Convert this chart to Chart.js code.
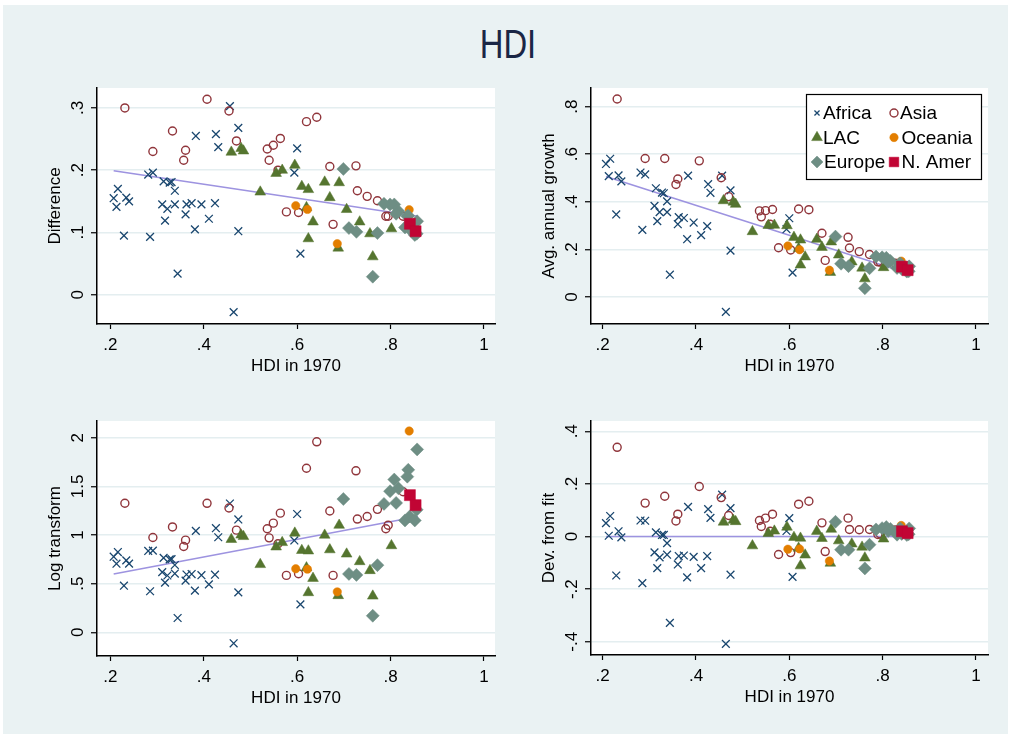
<!DOCTYPE html>
<html><head><meta charset="utf-8">
<script src="https://cdn.jsdelivr.net/npm/chart.js@4/dist/chart.umd.min.js"></script>
<style>
html,body{margin:0;padding:0;background:#ffffff;width:1011px;height:738px;overflow:hidden;}
#bg{position:absolute;left:3px;top:5px;width:1005px;height:729px;background:#eaf2f3;}
#title{position:absolute;left:0;width:1016px;top:21px;text-align:center;font-family:'Liberation Sans',Arial,sans-serif;font-size:40px;line-height:46px;color:#1a2645;transform:scaleX(0.82);transform-origin:508px 0;}
canvas{position:absolute;}
</style></head><body>
<div id="bg"></div>
<div id="title">HDI</div>
<canvas id="c1"></canvas>
<canvas id="c2"></canvas>
<canvas id="c3"></canvas>
<canvas id="c4"></canvas>
<script>
// ---------- data ----------
const africaX      = [0.456,0.474,0.383,0.426,0.431,0.600,0.594,0.281,0.291,0.314,0.327,0.331,0.338,0.216,0.207,0.234,0.240,0.213,0.311,0.322,0.338,0.363,0.374,0.395,0.424,0.361,0.317,0.411,0.381,0.474,0.229,0.285,0.344,0.464,0.607];
const africaDiff   = [0.303,0.268,0.255,0.258,0.237,0.235,0.196,0.193,0.196,0.182,0.180,0.181,0.167,0.170,0.155,0.156,0.150,0.141,0.145,0.138,0.145,0.145,0.147,0.145,0.147,0.129,0.119,0.122,0.105,0.102,0.095,0.093,0.034,-0.028,0.066];
const africaGrowth = [0.510,0.448,0.510,0.474,0.438,0.331,0.285,0.523,0.515,0.457,0.439,0.436,0.402,0.581,0.559,0.511,0.486,0.508,0.383,0.357,0.357,0.336,0.332,0.313,0.298,0.306,0.319,0.260,0.243,0.195,0.347,0.282,0.094,-0.062,0.103];
const africaLog    = [1.324,1.160,1.043,1.070,0.977,1.216,0.944,0.836,0.839,0.765,0.750,0.752,0.692,0.825,0.777,0.739,0.706,0.705,0.619,0.584,0.604,0.594,0.599,0.587,0.592,0.531,0.510,0.492,0.429,0.411,0.479,0.422,0.147,-0.113,0.287];
const africaDev    = [0.159,0.108,0.113,0.104,0.071,0.070,0.021,0.061,0.060,0.016,0.006,0.006,-0.025,0.078,0.051,0.020,-0.003,0.003,-0.060,-0.079,-0.069,-0.074,-0.072,-0.077,-0.074,-0.106,-0.120,-0.120,-0.155,-0.145,-0.148,-0.177,-0.328,-0.408,-0.153];

const asiaX      = [0.231,0.407,0.454,0.333,0.291,0.361,0.357,0.470,0.536,0.549,0.564,0.540,0.559,0.620,0.642,0.577,0.603,0.670,0.726,0.729,0.750,0.772,0.790,0.795,0.677,0.827];
const asiaDiff   = [0.300,0.314,0.295,0.263,0.230,0.232,0.216,0.247,0.234,0.240,0.251,0.216,0.200,0.278,0.285,0.133,0.132,0.206,0.207,0.167,0.158,0.151,0.126,0.126,0.113,0.126];
const asiaGrowth = [0.832,0.572,0.501,0.582,0.582,0.496,0.473,0.422,0.362,0.363,0.368,0.337,0.306,0.370,0.367,0.207,0.198,0.268,0.251,0.206,0.191,0.179,0.148,0.147,0.154,0.142];
const asiaLog    = [1.327,1.326,1.278,1.083,0.975,0.947,0.882,1.050,1.064,1.122,1.225,0.971,0.910,1.686,1.958,0.585,0.602,1.247,1.660,1.164,1.190,1.264,1.064,1.101,0.585,1.445];
const asiaDev    = [0.339,0.190,0.148,0.153,0.127,0.085,0.059,0.080,0.061,0.070,0.085,0.038,0.020,0.123,0.134,-0.068,-0.061,0.052,0.070,0.027,0.026,0.027,0.008,0.010,-0.057,0.025];

const lacX      = [0.459,0.480,0.485,0.521,0.555,0.568,0.595,0.610,0.624,0.659,0.690,0.670,0.706,0.634,0.620,0.624,0.688,0.734,0.756,0.762,0.802];
const lacDiff   = [0.229,0.235,0.231,0.165,0.195,0.200,0.208,0.174,0.169,0.181,0.180,0.156,0.137,0.117,0.140,0.090,0.075,0.117,0.098,0.061,0.106];
const lacGrowth = [0.405,0.399,0.390,0.275,0.301,0.302,0.300,0.251,0.240,0.243,0.232,0.209,0.177,0.169,0.204,0.135,0.104,0.148,0.122,0.077,0.124];
const lacLog    = [0.955,1.000,0.985,0.697,0.878,0.923,1.020,0.842,0.837,0.999,1.101,0.849,0.805,0.555,0.663,0.408,0.378,0.727,0.635,0.373,0.891];
const lacDev    = [0.055,0.062,0.057,-0.035,0.012,0.021,0.036,-0.003,-0.006,0.020,0.028,-0.007,-0.016,-0.070,-0.044,-0.111,-0.101,-0.028,-0.040,-0.081,-0.009];

const oceaniaX      = [0.597,0.622,0.686,0.840];
const oceaniaDiff   = [0.143,0.137,0.082,0.1365];
const oceaniaGrowth = [0.215,0.199,0.113,0.151];
const oceaniaLog    = [0.653,0.649,0.416,2.069];
const oceaniaDev    = [-0.048,-0.047,-0.093,0.042];

const europeX      = [0.857,0.838,0.836,0.808,0.817,0.799,0.786,0.812,0.699,0.772,0.711,0.727,0.762,0.831,0.841,0.852,0.856];
const europeDiff   = [0.118,0.127,0.126,0.145,0.134,0.145,0.146,0.130,0.202,0.099,0.107,0.101,0.029,0.108,0.105,0.096,0.098];
const europeGrowth = [0.129,0.141,0.140,0.165,0.152,0.167,0.170,0.148,0.254,0.121,0.140,0.130,0.037,0.122,0.118,0.107,0.108];
const europeLog    = [1.88,1.67,1.60,1.57,1.48,1.45,1.32,1.33,1.37,0.69,0.60,0.59,0.17,1.15,1.19,1.15,1.26];
const europeDev    = [0.031,0.031,0.029,0.036,0.029,0.032,0.027,0.021,0.056,-0.031,-0.050,-0.050,-0.121,0.007,0.010,0.006,0.009];

const namerX      = [0.8415,0.8537];
const namerDiff   = [0.114,0.102];
const namerGrowth = [0.128,0.113];
const namerLog    = [1.41,1.307];
const namerDev    = [0.020,0.013];

// fitted lines (end points)
const fitX      = [0.207,0.859];
const fitDiff   = [0.199,0.126];
const fitGrowth = [0.506,0.097];
const fitLog    = [0.600,1.190];
const fitDev    = [0,0];

// ticks and labels
const xTicks = [0.2,0.4,0.6,0.8,1];
const xTickLabels = ['.2','.4','.6','.8','1'];
const diffTicks = [0,0.1,0.2,0.3];          const diffTickLabels = ['0','.1','.2','.3'];
const growthTicks = [0,0.2,0.4,0.6,0.8];     const growthTickLabels = ['0','.2','.4','.6','.8'];
const logTicks = [0,0.5,1,1.5,2];            const logTickLabels = ['0','.5','1','1.5','2'];
const devTicks = [-0.4,-0.2,0,0.2,0.4];      const devTickLabels = ['-.4','-.2','0','.2','.4'];
const legendLabels = ['Africa','Asia','LAC','Oceania','Europe','N. Amer'];
const xTitle = 'HDI in 1970';

// ---------- styles ----------
const FONT = "'Liberation Sans', Arial, sans-serif";
const groupStyles = [
  {label:'Africa',  style:'crossRot', r:5.5, color:'#1a476f', fill:'rgba(0,0,0,0)', bw:1.3, order:6},
  {label:'Asia',    style:'circle',   r:4.0, color:'#90353b', fill:'rgba(0,0,0,0)', bw:1.4, order:5},
  {label:'LAC',     style:'triangle', r:6.2, color:'#55752f', fill:'#55752f', bw:0.5, order:4},
  {label:'Oceania', style:'circle',   r:4.2, color:'#e37e00', fill:'#e37e00', bw:0.5, order:3},
  {label:'Europe',  style:'rectRot',  r:6.5, color:'#6e8e84', fill:'#6e8e84', bw:0.5, order:2},
  {label:'N. Amer', style:'rect',     r:7.8, color:'#c10534', fill:'#c10534', bw:0.5, order:1}
];
const groupData = [
  {x:africaX,  diff:africaDiff,  growth:africaGrowth,  log:africaLog,  dev:africaDev},
  {x:asiaX,    diff:asiaDiff,    growth:asiaGrowth,    log:asiaLog,    dev:asiaDev},
  {x:lacX,     diff:lacDiff,     growth:lacGrowth,     log:lacLog,     dev:lacDev},
  {x:oceaniaX, diff:oceaniaDiff, growth:oceaniaGrowth, log:oceaniaLog, dev:oceaniaDev},
  {x:europeX,  diff:europeDiff,  growth:europeGrowth,  log:europeLog,  dev:europeDev},
  {x:namerX,   diff:namerDiff,   growth:namerGrowth,   log:namerLog,   dev:namerDev}
];

const panels = [
  {id:'c1', canvas:[0,60,510,340],   area:[97,88,495,324],  xmin:0.1713, xmax:1.0238, ymin:-0.047, ymax:0.332,
   key:'diff', ticks:diffTicks, labels:diffTickLabels, yTitle:'Difference', fit:fitDiff, legend:false},
  {id:'c2', canvas:[500,60,511,340], area:[591,88,988,324], xmin:0.1749, xmax:1.026, ymin:-0.113, ymax:0.878,
   key:'growth', ticks:growthTicks, labels:growthTickLabels, yTitle:'Avg. annual growth', fit:fitGrowth, legend:true},
  {id:'c3', canvas:[0,395,510,340],  area:[97,421,495,656], xmin:0.1713, xmax:1.0238, ymin:-0.2436, ymax:2.172,
   key:'log', ticks:logTicks, labels:logTickLabels, yTitle:'Log transform', fit:fitLog, legend:false},
  {id:'c4', canvas:[500,395,511,340],area:[591,421,988,655],xmin:0.1749, xmax:1.026, ymin:-0.450, ymax:0.439,
   key:'dev', ticks:devTicks, labels:devTickLabels, yTitle:'Dev. from fit', fit:fitDev, legend:false}
];

function markerPath(ctx, style, r, x, y){
  ctx.beginPath();
  if (style === 'crossRot'){ const o=r*0.7071; ctx.moveTo(x-o,y-o); ctx.lineTo(x+o,y+o); ctx.moveTo(x+o,y-o); ctx.lineTo(x-o,y+o); }
  else if (style === 'circle'){ ctx.arc(x,y,r,0,Math.PI*2); }
  else if (style === 'triangle'){ ctx.moveTo(x,y-r); ctx.lineTo(x+r*0.866,y+r*0.5); ctx.lineTo(x-r*0.866,y+r*0.5); ctx.closePath(); }
  else if (style === 'rectRot'){ ctx.moveTo(x-r,y); ctx.lineTo(x,y-r); ctx.lineTo(x+r,y); ctx.lineTo(x,y+r); ctx.closePath(); }
  else if (style === 'rect'){ const s=r*0.7071; ctx.rect(x-s,y-s,2*s,2*s); }
}

const plotBg = { id:'plotBg', beforeDraw(chart){ const a=chart.chartArea, c=chart.ctx; c.save(); c.fillStyle='#ffffff'; c.fillRect(a.left,a.top,a.right-a.left,a.bottom-a.top); c.restore(); } };

const yTickText = { id:'yTickText', afterDraw(chart, args, opts){
  const s = chart.scales.y, c = chart.ctx;
  c.save(); c.font = '17px ' + FONT; c.fillStyle = '#000'; c.textAlign = 'center'; c.textBaseline = 'alphabetic';
  opts.values.forEach((v,i) => { const py = s.getPixelForValue(v); c.save(); c.translate(chart.chartArea.left - 14, py); c.rotate(-Math.PI/2); c.fillText(opts.labels[i], 0, 0); c.restore(); });
  c.restore();
}};

const boxLegend = { id:'boxLegend', afterDraw(chart, args, opts){
  if (!opts.show) return;
  const c = chart.ctx, a = chart.chartArea;
  const bx = a.left + 215, by = a.top + 6, bw = 175, bh = 85;
  c.save();
  c.fillStyle = '#fff'; c.fillRect(bx, by, bw, bh);
  c.strokeStyle = '#000'; c.lineWidth = 1.2; c.strokeRect(bx+0.5, by+0.5, bw, bh);
  const legR = [3.6, 4.0, 6.2, 4.2, 6.0, 6.8];
  c.font = '19px ' + FONT; c.textBaseline = 'middle'; c.textAlign = 'left';
  groupStyles.forEach((g,i) => {
    const col = i % 2, row = Math.floor(i/2);
    const mx = bx + 11 + col*77, my = by + 19 + row*24.5;
    c.lineWidth = g.bw; c.strokeStyle = g.color; c.fillStyle = g.fill;
    markerPath(c, g.style, legR[i], mx, my);
    if (g.fill !== 'rgba(0,0,0,0)') c.fill();
    c.stroke();
    c.fillStyle = '#000';
    c.fillText(legendLabels[i], mx + 6 + (row===2 && col===0 ? 1 : 0) + (col===1 && row>0 ? 1.5 : 0), my + 1);
  });
  c.restore();
}};

function buildChart(p){
  const [cx, cy, cw, ch] = p.canvas;
  const [aL, aT, aR, aB] = p.area;
  const fs = 17, lh = fs*1.2;
  const yTitleX = aL - 42, xTitleY = aB + 42.5;
  const padLeft = yTitleX - lh/2 - cx;
  const yW = aL - cx - padLeft;
  const padTop = aT - cy;
  const padRight = cx + cw - aR;
  const xH = xTitleY + lh/2 - aB;
  const padBottom = cy + ch - aB - xH;
  const el = document.getElementById(p.id);
  el.width = cw; el.height = ch; el.style.left = cx + 'px'; el.style.top = cy + 'px';
  el.style.width = cw + 'px'; el.style.height = ch + 'px';

  const datasets = groupStyles.map((g,gi) => ({
    type:'scatter', label:g.label,
    data: groupData[gi].x.map((x,i) => ({x:x, y:groupData[gi][p.key][i]})),
    pointStyle:g.style, pointRadius:g.r, pointHoverRadius:g.r,
    pointBackgroundColor:g.fill, pointBorderColor:g.color, pointBorderWidth:g.bw,
    backgroundColor:g.fill, borderColor:g.color, order:g.order
  }));
  datasets.push({
    type:'line', label:'fit', data: fitX.map((x,i) => ({x:x, y:p.fit[i]})),
    borderColor:'#9d93e0', borderWidth:1.6, pointRadius:0, fill:false, order:100, tension:0
  });

  return new Chart(el, {
    type:'scatter',
    data:{datasets},
    plugins:[plotBg, yTickText, boxLegend],
    options:{
      responsive:false, animation:false, events:[],
      layout:{padding:{left:padLeft, top:padTop, right:padRight, bottom:padBottom}},
      plugins:{legend:{display:false}, tooltip:{enabled:false},
        yTickText:{values:p.ticks, labels:p.labels},
        boxLegend:{show:p.legend}},
      scales:{
        x:{type:'linear', position:'bottom', min:p.xmin, max:p.xmax,
          afterBuildTicks:s => { s.ticks = xTicks.map(v => ({value:v})); },
          afterFit:s => { s.height = xH; },
          ticks:{callback:(v,i) => xTickLabels[i], color:'#000', font:{family:FONT, size:17}, padding:6, maxRotation:0, autoSkip:false},
          grid:{drawOnChartArea:false, drawTicks:true, tickLength:5, tickColor:'#000', tickWidth:1.2},
          border:{color:'#000', width:1.5},
          title:{display:true, text:xTitle, color:'#000', font:{family:FONT, size:fs}, padding:0}
        },
        y:{type:'linear', position:'left', min:p.ymin, max:p.ymax,
          afterBuildTicks:s => { s.ticks = p.ticks.map(v => ({value:v})); },
          afterFit:s => { s.width = yW; },
          ticks:{display:false},
          grid:{color:'#e4eef0', lineWidth:1.5, drawTicks:true, tickLength:6, tickColor:'#000', tickWidth:1.2},
          border:{color:'#000', width:1.5},
          title:{display:true, text:p.yTitle, color:'#000', font:{family:FONT, size:fs}, padding:0}
        }
      }
    }
  });
}
panels.forEach(buildChart);
</script>
</body></html>
